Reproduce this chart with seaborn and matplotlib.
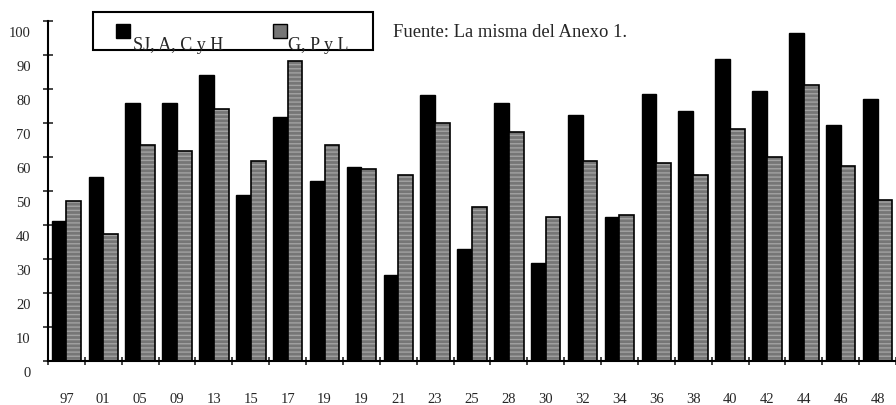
import pandas as pd
import seaborn as sns
import numpy as np
import matplotlib.pyplot as plt
from matplotlib.patches import Rectangle
from matplotlib.transforms import ScaledTranslation

# data
labels = ['97', '01', '05', '09', '13', '15', '17', '19', '19', '21', '23', '25',
          '28', '30', '32', '34', '36', '38', '40', '42', '44', '46', '48']
sjach = [41.2, 54.1, 75.8, 75.8, 84.0, 48.8, 71.8, 52.9, 57.1, 25.4, 78.1, 33.0,
         75.8, 28.9, 72.3, 42.4, 78.6, 73.4, 88.7, 79.3, 96.4, 69.3, 77.0]
gpl = [47.1, 37.5, 63.4, 61.8, 74.0, 58.7, 88.1, 63.4, 56.4, 54.6, 69.9, 45.3,
       67.5, 42.4, 58.7, 42.9, 58.1, 54.6, 68.1, 59.9, 81.1, 57.5, 47.5]
series = ['SJ, A, C y H', 'G, P y L']

n = len(labels)
df = pd.DataFrame({
    'pos': list(range(n)) * 2,
    'valor': sjach + gpl,
    'grupo': [series[0]] * n + [series[1]] * n,
})

gris = '#767676'
raya = '#a2a2a2'

sns.set_style('white')
plt.rcParams['font.family'] = ['Liberation Serif', 'DejaVu Serif']

fig = plt.figure(figsize=(8.96, 4.05), dpi=100)
ax = fig.add_axes([48 / 896, 44 / 405, 848 / 896, 340 / 405])

sns.barplot(data=df, x='pos', y='valor', hue='grupo', hue_order=series,
            palette=['black', gris], width=0.8, saturation=1,
            edgecolor='black', linewidth=1, legend=False, ax=ax)

# hatch the grey bars with lighter horizontal stripes, then outline them again
for p in ax.patches[n:2 * n]:
    p.set_hatch('----')
    p.set_edgecolor(raya)
    p.set_linewidth(0)
    ax.add_patch(Rectangle(p.get_xy(), p.get_width(), p.get_height(),
                           fill=False, edgecolor='black', linewidth=1.2))

ax.set_xlim(-0.5, 22.36)
ax.set_ylim(0, 100)
ax.set_yticks(np.arange(0, 101, 10))
ax.set_xticks(range(n))
ax.set_xticklabels(labels)
ax.set_xticks(np.arange(-0.5, n, 1), minor=True)
ax.set_xlabel('')
ax.set_ylabel('')

for s in ['top', 'right']:
    ax.spines[s].set_visible(False)
for s in ['left', 'bottom']:
    ax.spines[s].set_linewidth(1.5)
    ax.spines[s].set_color('black')

ax.tick_params(axis='x', which='major', length=0, pad=23, labelsize=10.5)
ax.tick_params(axis='x', which='minor', direction='inout', length=6, width=1.2,
               bottom=True)
ax.tick_params(axis='y', direction='inout', length=7, width=1.2, pad=9,
               labelsize=10.5, left=True)

# y labels sit a bit below their ticks in the original
off = ScaledTranslation(0, -11 / 100, fig.dpi_scale_trans)
for t in ax.get_yticklabels():
    t.set_transform(t.get_transform() + off)

# legend box drawn by hand to mimic the odd layout
W, H = 896, 405
fig.patches.append(Rectangle((93 / W, 1 - 50 / H), 280 / W, 38 / H,
                             transform=fig.transFigure, fill=False,
                             edgecolor='black', linewidth=1.5))
fig.patches.append(Rectangle((116 / W, 1 - 38 / H), 14 / W, 14 / H,
                             transform=fig.transFigure, facecolor='black',
                             edgecolor='black'))
fig.patches.append(Rectangle((273 / W, 1 - 38 / H), 14 / W, 14 / H,
                             transform=fig.transFigure, facecolor=gris,
                             edgecolor='black', linewidth=1))
fig.text(133 / W, 1 - 50 / H, series[0], fontsize=13, va='baseline')
fig.text(288 / W, 1 - 50 / H, series[1], fontsize=13, va='baseline')
fig.text(393 / W, 1 - 37 / H, 'Fuente: La misma del Anexo 1.', fontsize=13.4,
         va='baseline')

fig.savefig('out.png', dpi=100)
